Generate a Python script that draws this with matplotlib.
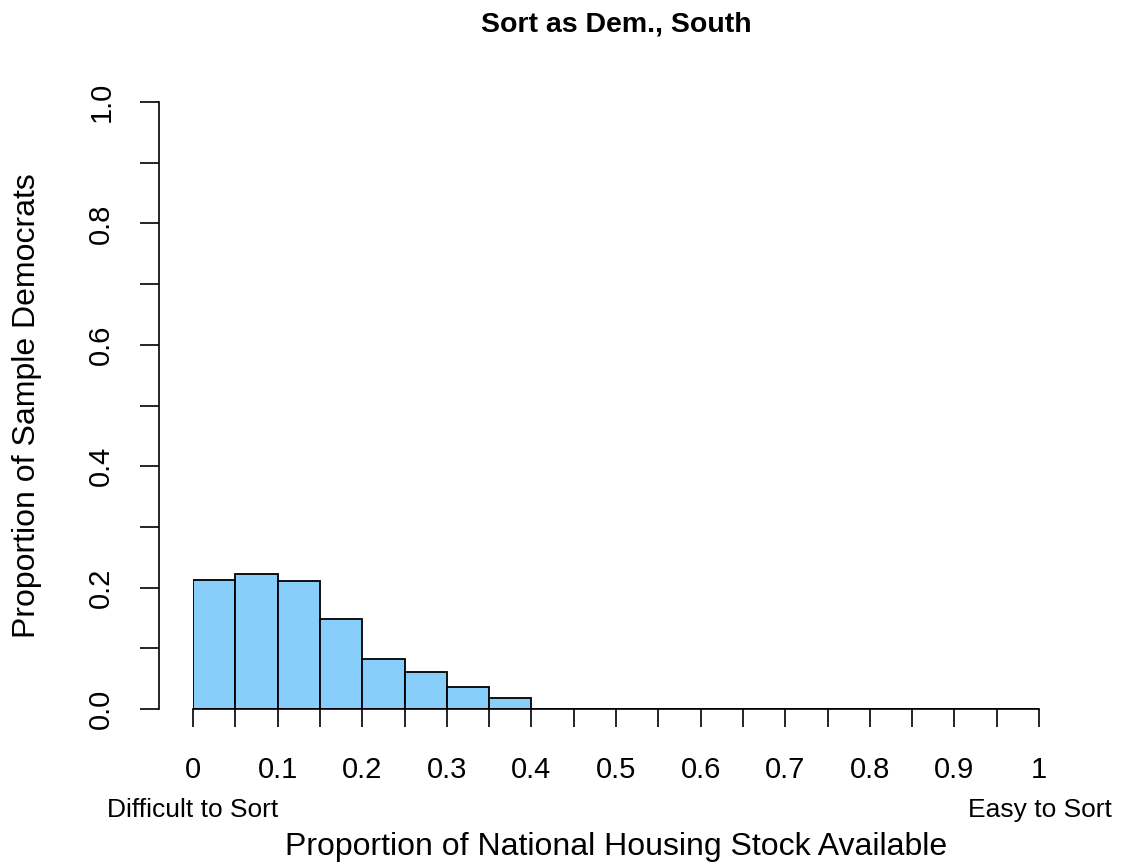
import numpy as np
import matplotlib
matplotlib.use("Agg")
import matplotlib.pyplot as plt
import matplotlib.transforms as mtransforms

plt.rcParams['font.family'] = ['Liberation Sans', 'DejaVu Sans']

# histogram data: 20 bins of width 0.05 on [0, 1]
bin_edges = [round(0.05 * i, 2) for i in range(21)]
proportions = [0.212, 0.223, 0.211, 0.148, 0.083, 0.0605, 0.036, 0.018,
               0, 0, 0, 0, 0, 0, 0, 0, 0, 0, 0, 0]
x_label_pos = [0, 0.1, 0.2, 0.3, 0.4, 0.5, 0.6, 0.7, 0.8, 0.9, 1]
x_label_text = ["0", "0.1", "0.2", "0.3", "0.4", "0.5", "0.6", "0.7", "0.8", "0.9", "1"]
y_ticks = [0, 0.1, 0.2, 0.3, 0.4, 0.5, 0.6, 0.7, 0.8, 0.9, 1.0]
y_tick_text = ["0.0", "", "0.2", "", "0.4", "", "0.6", "", "0.8", "", "1.0"]

W, H = 1122, 867


def fx(px):
    return px / W


def fy(py):
    return 1 - py / H


fig = plt.figure(figsize=(W / 100, H / 100), dpi=100)
ax = fig.add_axes([fx(193), fy(709), fx(1039) - fx(193), fy(102) - fy(709)])

ax.bar(bin_edges[:-1], proportions, width=0.05, align='edge',
       color='#87CEFA', edgecolor='black', linewidth=1.3)

ax.set_xlim(0, 1)
ax.set_ylim(0, 1)

for s in ['top', 'right']:
    ax.spines[s].set_visible(False)
ax.spines['left'].set_position(('outward', 34 * 0.72))
ax.spines['left'].set_bounds(0, 1)
ax.spines['bottom'].set_bounds(0, 1)
ax.spines['left'].set_linewidth(1.2)
ax.spines['bottom'].set_linewidth(1.2)

ax.set_xticks(bin_edges)
ax.set_xticklabels([])
ax.tick_params(axis='x', length=13, width=1.2, direction='out')

ax.set_yticks(y_ticks)
ax.set_yticklabels(y_tick_text, rotation=90, va='center', fontsize=21)
ax.tick_params(axis='y', length=13.5, width=1.2, direction='out', pad=18)

# x tick labels placed below ticks
trans = mtransforms.blended_transform_factory(ax.transData, fig.transFigure)
for pos, txt in zip(x_label_pos, x_label_text):
    ax.text(pos, fy(778), txt, transform=trans, ha='center', va='baseline', fontsize=21)

fig.text(fx(107), fy(817), "Difficult to Sort", ha='left', va='baseline', fontsize=19)
fig.text(fx(1112), fy(817), "Easy to Sort", ha='right', va='baseline', fontsize=19)
fig.text(fx(616), fy(855), "Proportion of National Housing Stock Available",
         ha='center', va='baseline', fontsize=23)
fig.text(fx(42), fy(406), "Proportion of Sample Democrats", rotation=90,
         ha='right', va='center', fontsize=23)
fig.text(fx(616), fy(32), "Sort as Dem., South", ha='center', va='baseline',
         fontsize=20.5, fontweight='bold')

fig.savefig("out.png", dpi=100)
